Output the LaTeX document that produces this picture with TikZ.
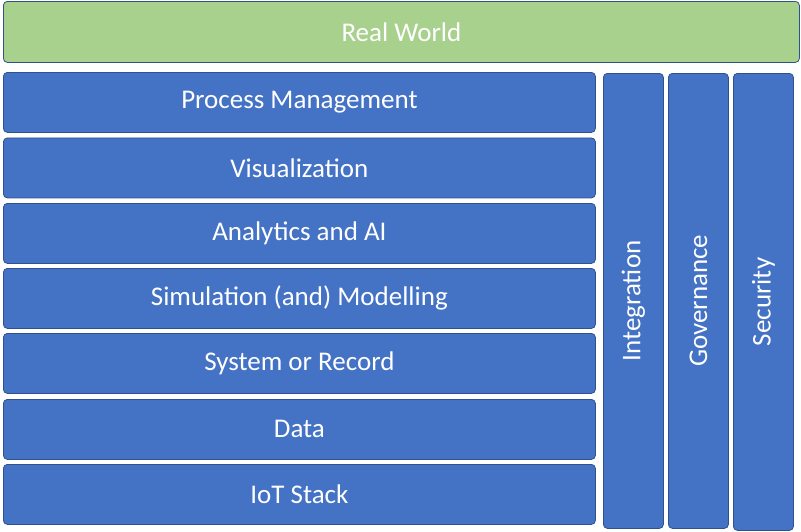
\documentclass[tikz,border=0pt]{standalone}
\usepackage{fontspec}
\setmainfont{Carlito}
\definecolor{layerblue}{HTML}{4472C4}
\definecolor{worldgreen}{HTML}{A9D18E}
\definecolor{edgeblue}{HTML}{2F528F}
\tikzset{
  layer/.style={draw=edgeblue, line width=0.8pt, rounded corners=4pt, fill=layerblue,
    text=white, font=\fontsize{27}{30}\selectfont, inner sep=0pt, anchor=north west},
  row/.style={layer, minimum width=592pt, minimum height=60pt},
  pillar/.style={layer, minimum width=60pt, minimum height=455pt},
  pillartext/.style={text=white, font=\fontsize{27}{30}\selectfont, rotate=90}
}
\begin{document}
\begin{tikzpicture}[x=1pt, y=-1pt]
  \useasboundingbox (0,0) rectangle (801,531);
  % Real World
  \node[layer, fill=worldgreen, minimum width=796pt, minimum height=61pt] (world) at (3,1) {Real World};

  % stacked layers
  \node[row] (process) at (3,72) {Process Management};
  \node[row] (visual) at (3,137.5) {Visualization};
  \node[row] (analytics) at (3,203) {Analytics and AI};
  \node[row] (simulation) at (3,268) {Simulation (and) Modelling};
  \node[row] (record) at (3,333) {System or Record};
  \node[row] (data) at (3,399) {Data};
  \node[row] (iot) at (3,464) {IoT Stack};

  % vertical pillars
  \node[pillar] (integration) at (603,73) {};
  \node[pillar, minimum width=60pt] (governance) at (668,73) {};
  \node[pillar, minimum height=457pt] (security) at (733,73) {};
  \node[pillartext] at (integration.center) {Integration};
  \node[pillartext] at (governance.center) {Governance};
  \node[pillartext] at (security.center) {Security};
\end{tikzpicture}
\end{document}
